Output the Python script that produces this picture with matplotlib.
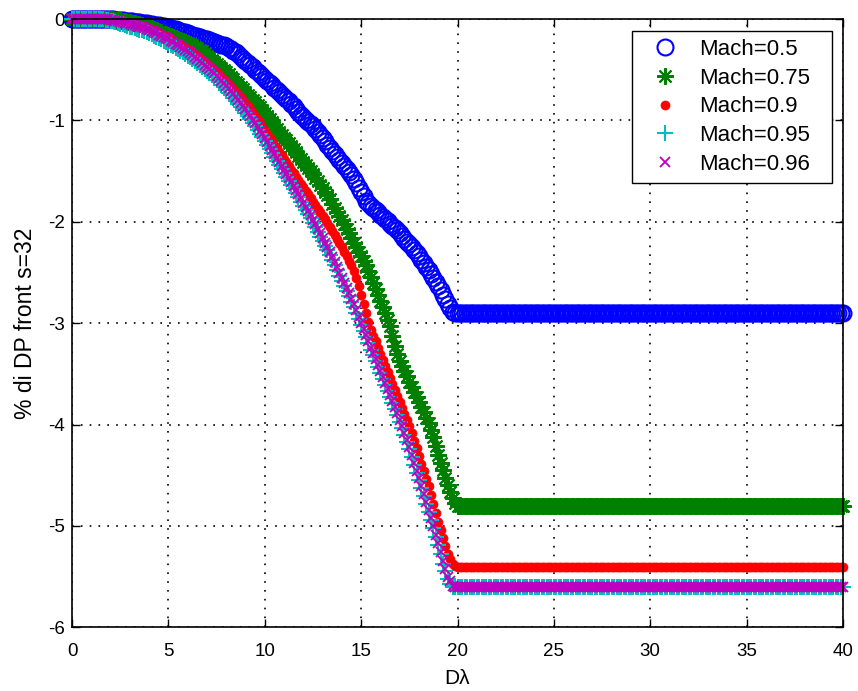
import matplotlib
matplotlib.use('Agg')
import matplotlib.pyplot as plt
import numpy as np

plt.rcParams['axes.unicode_minus'] = False

# D-lambda sampling (every 0.125 up to 40)
dl = np.arange(0, 40.001, 0.125)

labels = ['Mach=0.5', 'Mach=0.75', 'Mach=0.9', 'Mach=0.95', 'Mach=0.96']

# values for Dl = 0 .. 20, step 0.125 (one row per unit)
m050 = [0, 0, 0, 0, 0, 0, 0, 0,
        0, 0, 0, 0, 0, 0, 0, 0,
        0, -0.002, -0.005, -0.008, -0.01, -0.012, -0.015, -0.018,
        -0.02, -0.023, -0.026, -0.029, -0.032, -0.035, -0.038, -0.041,
        -0.045, -0.05, -0.055, -0.06, -0.064, -0.068, -0.072, -0.076,
        -0.08, -0.088, -0.095, -0.103, -0.11, -0.118, -0.125, -0.133,
        -0.14, -0.149, -0.157, -0.164, -0.17, -0.178, -0.185, -0.193,
        -0.2, -0.209, -0.217, -0.226, -0.235, -0.244, -0.252, -0.261,
        -0.27, -0.285, -0.30, -0.315, -0.33, -0.35, -0.37, -0.39,
        -0.41, -0.43, -0.45, -0.475, -0.50, -0.52, -0.54, -0.565,
        -0.59, -0.61, -0.63, -0.655, -0.68, -0.70, -0.72, -0.745,
        -0.77, -0.79, -0.81, -0.835, -0.86, -0.89, -0.92, -0.945,
        -0.97, -0.995, -1.02, -1.04, -1.06, -1.085, -1.11, -1.14,
        -1.17, -1.205, -1.24, -1.27, -1.30, -1.33, -1.36, -1.39,
        -1.42, -1.45, -1.48, -1.51, -1.54, -1.58, -1.62, -1.665,
        -1.71, -1.75, -1.79, -1.815, -1.84, -1.86, -1.88, -1.905,
        -1.93, -1.95, -1.97, -1.995, -2.02, -2.04, -2.06, -2.085,
        -2.11, -2.14, -2.17, -2.195, -2.22, -2.25, -2.28, -2.31,
        -2.34, -2.375, -2.41, -2.445, -2.48, -2.515, -2.55, -2.59,
        -2.63, -2.675, -2.72, -2.765, -2.81, -2.85, -2.89, -2.9,
        -2.9]
m075 = [0, 0, 0, 0, 0, 0, 0, 0,
        0, 0, 0, 0, 0, 0, 0, 0,
        0, -0.002, -0.005, -0.008, -0.01, -0.015, -0.02, -0.025,
        -0.03, -0.035, -0.04, -0.045, -0.05, -0.057, -0.065, -0.072,
        -0.08, -0.09, -0.10, -0.112, -0.125, -0.135, -0.145, -0.152,
        -0.16, -0.17, -0.18, -0.19, -0.20, -0.21, -0.22, -0.23,
        -0.24, -0.25, -0.26, -0.275, -0.29, -0.305, -0.32, -0.34,
        -0.36, -0.38, -0.40, -0.42, -0.44, -0.46, -0.48, -0.50,
        -0.52, -0.545, -0.57, -0.595, -0.62, -0.645, -0.67, -0.695,
        -0.72, -0.745, -0.77, -0.795, -0.82, -0.845, -0.87, -0.90,
        -0.93, -0.96, -0.99, -1.02, -1.05, -1.08, -1.11, -1.14,
        -1.17, -1.195, -1.22, -1.25, -1.28, -1.315, -1.35, -1.38,
        -1.41, -1.44, -1.47, -1.50, -1.53, -1.565, -1.60, -1.635,
        -1.67, -1.705, -1.74, -1.78, -1.82, -1.86, -1.90, -1.94,
        -1.98, -2.025, -2.07, -2.115, -2.16, -2.205, -2.25, -2.295,
        -2.34, -2.385, -2.43, -2.485, -2.54, -2.60, -2.66, -2.72,
        -2.78, -2.84, -2.90, -2.965, -3.03, -3.13, -3.22, -3.30,
        -3.37, -3.42, -3.47, -3.525, -3.58, -3.63, -3.68, -3.73,
        -3.78, -3.83, -3.88, -3.93, -3.98, -4.05, -4.12, -4.21,
        -4.30, -4.375, -4.45, -4.525, -4.60, -4.66, -4.72, -4.77,
        -4.8]
m090 = [0, 0, 0, 0, 0, 0, 0, 0,
        0, 0, 0, 0, 0, 0, 0, 0,
        0, -0.005, -0.01, -0.015, -0.02, -0.025, -0.03, -0.035,
        -0.04, -0.045, -0.05, -0.057, -0.065, -0.072, -0.08, -0.09,
        -0.10, -0.11, -0.12, -0.132, -0.145, -0.157, -0.17, -0.18,
        -0.19, -0.205, -0.22, -0.232, -0.245, -0.257, -0.27, -0.285,
        -0.30, -0.315, -0.33, -0.345, -0.36, -0.38, -0.40, -0.42,
        -0.44, -0.46, -0.48, -0.50, -0.52, -0.545, -0.57, -0.595,
        -0.62, -0.645, -0.67, -0.695, -0.72, -0.745, -0.77, -0.80,
        -0.83, -0.86, -0.89, -0.925, -0.96, -0.995, -1.03, -1.065,
        -1.10, -1.135, -1.17, -1.205, -1.24, -1.275, -1.31, -1.345,
        -1.38, -1.415, -1.45, -1.485, -1.52, -1.555, -1.59, -1.625,
        -1.66, -1.695, -1.73, -1.765, -1.80, -1.835, -1.87, -1.905,
        -1.94, -1.975, -2.01, -2.05, -2.09, -2.13, -2.17, -2.21,
        -2.25, -2.295, -2.34, -2.385, -2.43, -2.49, -2.55, -2.63,
        -2.72, -2.81, -2.90, -2.985, -3.07, -3.125, -3.18, -3.24,
        -3.30, -3.36, -3.42, -3.48, -3.54, -3.60, -3.66, -3.72,
        -3.78, -3.84, -3.90, -3.955, -4.01, -4.085, -4.16, -4.235,
        -4.31, -4.385, -4.46, -4.535, -4.61, -4.695, -4.78, -4.87,
        -4.96, -5.04, -5.12, -5.20, -5.28, -5.33, -5.37, -5.39,
        -5.4]
m095 = [0, 0, 0, 0, 0, 0, 0, 0,
        0, 0, 0, 0, 0, -0.002, -0.005, -0.01,
        -0.015, -0.022, -0.03, -0.037, -0.045, -0.052, -0.06, -0.067,
        -0.075, -0.082, -0.09, -0.097, -0.105, -0.112, -0.12, -0.13,
        -0.14, -0.152, -0.165, -0.177, -0.19, -0.202, -0.215, -0.227,
        -0.24, -0.255, -0.27, -0.285, -0.30, -0.315, -0.33, -0.345,
        -0.36, -0.375, -0.39, -0.41, -0.43, -0.45, -0.47, -0.49,
        -0.51, -0.53, -0.55, -0.575, -0.60, -0.625, -0.65, -0.675,
        -0.70, -0.725, -0.75, -0.78, -0.81, -0.84, -0.87, -0.90,
        -0.93, -0.96, -0.99, -1.025, -1.06, -1.095, -1.13, -1.165,
        -1.20, -1.24, -1.28, -1.32, -1.36, -1.40, -1.44, -1.48,
        -1.52, -1.56, -1.60, -1.64, -1.68, -1.72, -1.76, -1.80,
        -1.84, -1.88, -1.92, -1.965, -2.01, -2.055, -2.10, -2.145,
        -2.19, -2.235, -2.28, -2.33, -2.38, -2.43, -2.48, -2.53,
        -2.58, -2.63, -2.68, -2.735, -2.79, -2.845, -2.90, -2.96,
        -3.02, -3.08, -3.14, -3.20, -3.26, -3.315, -3.37, -3.43,
        -3.49, -3.55, -3.61, -3.67, -3.73, -3.79, -3.85, -3.91,
        -3.97, -4.035, -4.10, -4.17, -4.24, -4.32, -4.40, -4.475,
        -4.55, -4.625, -4.70, -4.78, -4.86, -4.94, -5.02, -5.105,
        -5.19, -5.28, -5.37, -5.445, -5.52, -5.57, -5.6, -5.6,
        -5.6]
m096 = [0, 0, 0, 0, 0, 0, 0, 0,
        0, 0, 0, 0, 0, 0, 0, -0.002,
        -0.005, -0.01, -0.015, -0.02, -0.025, -0.03, -0.035, -0.042,
        -0.05, -0.055, -0.06, -0.067, -0.075, -0.082, -0.09, -0.10,
        -0.11, -0.12, -0.13, -0.142, -0.155, -0.167, -0.18, -0.19,
        -0.20, -0.215, -0.23, -0.245, -0.26, -0.275, -0.29, -0.305,
        -0.32, -0.337, -0.355, -0.372, -0.39, -0.41, -0.43, -0.45,
        -0.47, -0.49, -0.51, -0.535, -0.56, -0.585, -0.61, -0.635,
        -0.66, -0.685, -0.71, -0.74, -0.77, -0.80, -0.83, -0.86,
        -0.89, -0.925, -0.96, -0.995, -1.03, -1.065, -1.10, -1.135,
        -1.17, -1.21, -1.25, -1.29, -1.33, -1.37, -1.41, -1.45,
        -1.49, -1.53, -1.57, -1.61, -1.65, -1.69, -1.73, -1.77,
        -1.81, -1.85, -1.89, -1.935, -1.98, -2.025, -2.07, -2.115,
        -2.16, -2.205, -2.25, -2.30, -2.35, -2.40, -2.45, -2.50,
        -2.55, -2.60, -2.65, -2.705, -2.76, -2.815, -2.87, -2.935,
        -3.0, -3.06, -3.12, -3.18, -3.24, -3.295, -3.35, -3.41,
        -3.47, -3.53, -3.59, -3.65, -3.71, -3.77, -3.83, -3.89,
        -3.95, -4.015, -4.08, -4.15, -4.22, -4.30, -4.38, -4.455,
        -4.53, -4.605, -4.68, -4.76, -4.84, -4.92, -5.00, -5.085,
        -5.17, -5.26, -5.35, -5.425, -5.50, -5.545, -5.59, -5.6,
        -5.6]

# plateau levels read for Dl > 20
flat = [-2.9, -4.8, -5.4, -5.6, -5.6]

curves = [m050, m075, m090, m095, m096]
n_flat = len(dl) - len(m050)
series = [np.array(c + [f] * n_flat) for c, f in zip(curves, flat)]

styles = [
    dict(marker='o', color=(0, 0, 1), ms=11.5, mfc='none', mew=1.5),
    dict(marker=(8, 2, 0), color=(0, 0.5, 0), ms=12, mew=1.5),
    dict(marker='.', color=(1, 0, 0), ms=13, mew=0.5),
    dict(marker='+', color=(0, 0.75, 0.75), ms=12, mew=1.5),
    dict(marker='x', color=(0.75, 0, 0.75), ms=7.5, mew=1.3),
]

fig = plt.figure(figsize=(8.58, 6.91), dpi=100)
ax = fig.add_axes([72 / 858, 1 - 627.4 / 691, 771 / 858, 608.4 / 691])

for y, lab, st in zip(series, labels, styles):
    ax.plot(dl, y, linestyle='none', label=lab, clip_on=False, **st)

ax.set_xlim(0, 40)
ax.set_ylim(-6, 0)
ax.set_xticks(np.arange(0, 41, 5))
ax.set_yticks(np.arange(-6, 1, 1))
ax.grid(True, color='k', linestyle=(0, (1, 4.3)), linewidth=1.2)
ax.set_axisbelow(True)

tickfont = ['Liberation Sans', 'DejaVu Sans']
ax.tick_params(direction='in', length=6, width=1, top=True, right=True)
ax.tick_params(axis='x', pad=11)
ax.tick_params(axis='y', pad=5)
for t in ax.get_xticklabels() + ax.get_yticklabels():
    t.set_family(tickfont)
    t.set_fontsize(13.5)
for s in ax.spines.values():
    s.set_linewidth(1.2)

ax.set_xlabel('D\u03bb', fontsize=15, family=['Liberation Sans', 'DejaVu Sans'], labelpad=7)
ax.set_ylabel('% di DP front s=32', fontsize=16.5, family=['Liberation Sans', 'DejaVu Sans'], labelpad=8)

# legend box spans x 632..832 px, top at 31 px
leg = ax.legend(loc='upper left', bbox_to_anchor=(632 / 858, 1 - 31 / 691, 200 / 858, 0),
                bbox_transform=fig.transFigure, borderaxespad=0, mode='expand',
                fancybox=False, framealpha=1, edgecolor='k',
                prop={'family': ['Liberation Sans', 'DejaVu Sans'], 'size': 16},
                labelspacing=0.35, handlelength=2.25, handletextpad=0.4,
                borderpad=0.35, numpoints=1)
leg.get_frame().set_linewidth(1.0)

fig.savefig('out.png', dpi=100, facecolor='white')
